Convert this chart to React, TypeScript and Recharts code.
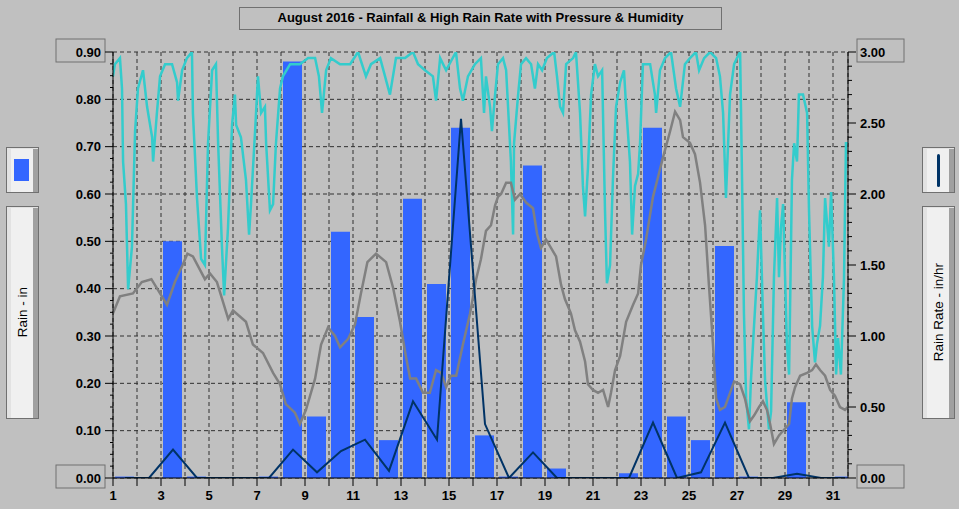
import React from 'react'
import { ComposedChart, Bar, Line, XAxis, YAxis, CartesianGrid } from 'recharts'

// daily rainfall (in), day 1..31
const rainDaily = [
  0.003, 0, 0.5, 0.003, 0, 0, 0.003, 0.88, 0.13, 0.52, 0.34, 0.08, 0.59, 0.41, 0.74, 0.09,
  0.003, 0.66, 0.02, 0, 0, 0.01, 0.74, 0.13, 0.08, 0.49, 0.003, 0, 0.16, 0, 0.003,
]
// daily high rain rate (in/hr)
const rateDaily = [
  0, 0, 0.2, 0, 0, 0, 0, 0.2, 0.04, 0.19, 0.27, 0.05, 0.54, 0.27, 2.53, 0.38,
  0, 0.18, 0, 0, 0, 0, 0.39, 0, 0.04, 0.39, 0, 0, 0.03, 0, 0,
]

// humidity (%), sampled through the month
const humTimes = [
  1.0, 1.08, 1.29, 1.375, 1.42, 1.54, 1.63, 1.79, 1.92, 2.04, 2.25, 2.42, 2.63, 2.67, 2.83, 2.96,
  3.17, 3.46, 3.67, 3.71, 3.88, 4.08, 4.29, 4.33, 4.5, 4.67, 4.83, 4.96, 5.13, 5.29, 5.38, 5.54,
  5.63, 5.79, 5.96, 6.08, 6.13, 6.33, 6.54, 6.67, 6.75, 6.92, 7.04, 7.17, 7.33, 7.38, 7.54, 7.67,
  7.79, 7.96, 8.08, 8.38, 8.79, 9.13, 9.42, 9.58, 9.71, 9.88, 10.08, 10.46, 10.88, 11.21, 11.54, 11.75,
  12.13, 12.54, 12.79, 13.17, 13.5, 13.71, 14.0, 14.33, 14.46, 14.63, 14.88, 15.29, 15.46, 15.58, 15.79, 16.08,
  16.33, 16.46, 16.54, 16.71, 16.79, 16.92, 17.04, 17.25, 17.38, 17.5, 17.58, 17.67, 17.71, 17.88, 18.0, 18.21,
  18.42, 18.58, 18.71, 18.88, 19.08, 19.38, 19.5, 19.63, 19.75, 19.88, 20.17, 20.29, 20.46, 20.58, 20.67, 20.79,
  20.92, 21.08, 21.21, 21.38, 21.5, 21.58, 21.71, 21.83, 21.96, 22.13, 22.29, 22.38, 22.54, 22.63, 22.75, 22.88,
  22.96, 23.08, 23.38, 23.58, 23.63, 23.79, 24.0, 24.25, 24.46, 24.63, 24.83, 25.04, 25.29, 25.42, 25.63, 25.88,
  26.13, 26.29, 26.42, 26.54, 26.63, 26.71, 26.88, 27.0, 27.13, 27.21, 27.29, 27.38, 27.5, 27.58, 27.71, 27.83,
  27.96, 28.08, 28.17, 28.33, 28.42, 28.54, 28.67, 28.75, 28.83, 28.92, 29.08, 29.17, 29.29, 29.38, 29.5, 29.58,
  29.75, 29.92, 30.0, 30.13, 30.25, 30.33, 30.46, 30.58, 30.67, 30.83, 30.92, 31.04, 31.13, 31.21, 31.33, 31.46,
  31.54, 31.62,
]
const humValues = [
  96, 98, 99, 94, 82, 75, 61, 68, 87, 94, 97, 91, 86, 82, 90, 96,
  98, 98, 95, 92, 97, 99, 100, 90, 76, 66, 65, 85, 97, 98, 85, 68,
  60, 71, 88, 93, 88, 86, 79, 70, 75, 87, 96, 90, 91, 85, 74, 75,
  85, 94, 96, 98, 98, 99, 99, 96, 90, 97, 99, 98, 98, 100, 96, 98,
  99, 93, 99, 99, 100, 98, 97, 96, 92, 99, 97, 100, 94, 92, 96, 98,
  99, 90, 96, 91, 87, 93, 98, 99, 97, 88, 82, 70, 85, 93, 98, 99,
  98, 94, 98, 97, 99, 100, 96, 91, 90, 98, 99, 100, 90, 78, 73, 81,
  93, 98, 96, 97, 74, 62, 65, 79, 91, 95, 97, 91, 82, 70, 78, 80,
  85, 98, 98, 93, 90, 97, 99, 100, 94, 91, 98, 99, 100, 97, 99, 100,
  99, 96, 90, 76, 85, 93, 98, 99, 100, 79, 57, 43, 38, 46, 55, 63,
  74, 57, 46, 38, 41, 63, 76, 63, 71, 75, 52, 47, 79, 85, 82, 93,
  93, 90, 74, 55, 49, 52, 55, 63, 76, 68, 77, 63, 47, 53, 47, 63,
  85, 85,
]

// barometric pressure (hPa)
const presTimes = [
  1.0, 1.29, 1.83, 2.2, 2.6, 2.96, 3.25, 3.58, 3.9, 4.1, 4.33, 4.83, 5.04, 5.33, 5.8, 6.0,
  6.54, 6.83, 7.25, 7.67, 7.96, 8.2, 8.58, 8.79, 9.04, 9.42, 9.67, 9.96, 10.25, 10.46, 10.8, 11.08,
  11.33, 11.6, 11.96, 12.38, 12.67, 12.96, 13.2, 13.38, 13.63, 13.92, 14.2, 14.46, 14.67, 14.88, 15.08, 15.3,
  15.58, 15.88, 16.13, 16.33, 16.54, 16.75, 16.92, 17.04, 17.17, 17.38, 17.58, 17.75, 17.96, 18.21, 18.5, 18.67,
  18.83, 19.04, 19.25, 19.46, 19.67, 19.83, 20.08, 20.25, 20.46, 20.67, 20.79, 21.0, 21.21, 21.42, 21.63, 21.75,
  21.92, 22.13, 22.38, 22.67, 22.88, 23.0, 23.21, 23.5, 23.71, 23.92, 24.21, 24.42, 24.63, 24.75, 25.04, 25.25,
  25.46, 25.67, 25.83, 26.0, 26.13, 26.29, 26.5, 26.71, 26.88, 27.13, 27.33, 27.54, 27.71, 27.92, 28.08, 28.25,
  28.38, 28.54, 28.75, 28.96, 29.17, 29.29, 29.42, 29.63, 29.92, 30.13, 30.29, 30.46, 30.67, 30.88, 31.08, 31.29,
  31.5, 31.62,
]
const presValues = [
  1010.8, 1011.4, 1011.5, 1011.9, 1012.0, 1011.5, 1011.1, 1011.9, 1012.5, 1012.9, 1012.8, 1012.0, 1012.2, 1011.9, 1010.6, 1010.9,
  1010.5, 1009.7, 1009.4, 1008.7, 1008.3, 1007.6, 1007.3, 1006.9, 1007.4, 1008.5, 1009.7, 1010.3, 1010.0, 1009.6, 1009.9, 1010.4,
  1011.5, 1012.6, 1012.9, 1012.6, 1011.7, 1010.5, 1009.3, 1008.5, 1008.5, 1008.0, 1008.0, 1008.8, 1008.7, 1008.2, 1008.6, 1008.6,
  1009.7, 1010.8, 1012.0, 1012.7, 1013.7, 1013.9, 1014.6, 1014.9, 1015.0, 1015.4, 1015.4, 1014.8, 1015.0, 1014.7, 1014.5, 1013.6,
  1013.1, 1013.4, 1013.1, 1012.8, 1011.8, 1011.3, 1010.8, 1010.2, 1009.8, 1009.1, 1008.3, 1008.1, 1008.0, 1008.1, 1007.5, 1008.0,
  1008.8, 1009.3, 1010.5, 1011.1, 1011.5, 1012.5, 1013.4, 1014.9, 1015.6, 1016.3, 1017.2, 1017.9, 1017.6, 1017.0, 1016.8, 1016.4,
  1015.4, 1013.9, 1011.8, 1009.7, 1007.8, 1007.4, 1007.5, 1008.0, 1008.4, 1008.3, 1007.8, 1007.0, 1007.2, 1007.5, 1007.7, 1007.4,
  1006.9, 1006.2, 1006.5, 1006.7, 1006.9, 1007.8, 1008.2, 1008.6, 1008.7, 1008.8, 1009.0, 1008.8, 1008.6, 1008.1, 1007.9, 1007.5,
  1007.4, 1007.5,
]

const dayTicks = [1, 2, 3, 4, 5, 6, 7, 8, 9, 10, 11, 12, 13, 14, 15, 16, 17, 18, 19, 20, 21, 22, 23, 24, 25, 26, 27, 28, 29, 30, 31]
const rainTickLabels = [0, 0.1, 0.2, 0.3, 0.4, 0.5, 0.6, 0.7, 0.8, 0.9]
const rateTickLabels = [0, 0.5, 1, 1.5, 2, 2.5, 3]

// minor ticks between the labelled ones
const rainTicks = rainTickLabels.flatMap((v, i) =>
  i === 0 ? [v] : [v - 0.075, v - 0.05, v - 0.025, v])
const rateTicks = rateTickLabels.flatMap((v, i) =>
  i === 0 ? [v] : [v - 0.4, v - 0.3, v - 0.2, v - 0.1, v])

const data = rainDaily.map((rain, i) => ({ day: i + 1.5, rain, rate: rateDaily[i] }))
const humData = humTimes.map((day, i) => ({ day, hum: humValues[i] }))
const presData = presTimes.map((day, i) => ({ day, pres: presValues[i] }))

const FONT = '"Liberation Sans", Arial, sans-serif'

const isLabel = (list: number[], v: number) => list.some((t) => Math.abs(t - v) < 1e-6)

function RainTick({ x, y, payload }: any) {
  const v = payload.value
  if (!isLabel(rainTickLabels, v)) {
    return <line x1={x - 3} x2={x} y1={y} y2={y} stroke="#000" />
  }
  const boxed = v === 0 || Math.abs(v - 0.9) < 1e-6
  return (
    <g>
      {boxed && <rect x={x - 57} y={y - 13} width={49} height={23} fill="none" stroke="#707070" />}
      <line x1={x - 8} x2={x} y1={y} y2={y} stroke="#000" />
      <text x={x - 12} y={y} dy="0.36em" textAnchor="end" fontFamily={FONT} fontWeight="bold" fontSize={13} fill="#000">
        {v.toFixed(2)}
      </text>
    </g>
  )
}

function RateTick({ x, y, payload }: any) {
  const v = payload.value
  if (!isLabel(rateTickLabels, v)) {
    return <line x1={x} x2={x + 4} y1={y} y2={y} stroke="#000" />
  }
  const boxed = v === 0 || v === 3
  return (
    <g>
      {boxed && <rect x={x + 9} y={y - 13} width={47} height={23} fill="none" stroke="#707070" />}
      <line x1={x} x2={x + 8} y1={y} y2={y} stroke="#000" />
      <text x={x + 12} y={y} dy="0.36em" textAnchor="start" fontFamily={FONT} fontWeight="bold" fontSize={13} fill="#000">
        {v.toFixed(2)}
      </text>
    </g>
  )
}

const panel: React.CSSProperties = {
  position: 'absolute',
  boxSizing: 'border-box',
  border: '1px solid #707070',
  background: '#f0f0f0',
  boxShadow: 'inset 4px 1px 0 #e2e2e2, inset -5px 0 0 #a0a0a0',
}

function SideLabel({ left, text }: { left: number; text: string }) {
  return (
    <div style={{ ...panel, left, top: 206, width: 33, height: 213, display: 'flex', alignItems: 'center', justifyContent: 'center' }}>
      <div style={{ writingMode: 'vertical-rl', transform: 'rotate(180deg)', fontFamily: FONT, fontSize: 13.5, color: '#000', whiteSpace: 'nowrap' }}>
        {text}
      </div>
    </div>
  )
}

export default function App() {
  return (
    <div style={{ position: 'fixed', left: 0, top: 0, width: 959, height: 509, background: '#c0c0c0', overflow: 'hidden' }}>
      <div
        style={{
          position: 'absolute', left: 239, top: 7, width: 483, height: 23, boxSizing: 'border-box',
          border: '1px solid #707070', textAlign: 'center', lineHeight: '19px',
          fontFamily: FONT, fontWeight: 'bold', fontSize: 13, color: '#000',
        }}
      >
        August 2016 - Rainfall &amp; High Rain Rate with Pressure &amp; Humidity
      </div>

      <div style={{ ...panel, left: 6, top: 147, width: 33, height: 46 }}>
        <div style={{ position: 'absolute', left: 7, top: 11, width: 15, height: 22, background: '#3366ff' }} />
      </div>
      <SideLabel left={6} text="Rain - in" />

      <div style={{ ...panel, left: 922, top: 147, width: 33, height: 46 }}>
        <div style={{ position: 'absolute', left: 14, top: 6, width: 3, height: 33, borderRadius: 2, background: '#003366' }} />
      </div>
      <SideLabel left={922} text="Rain Rate - in/hr" />

      <div style={{ position: 'absolute', left: 0, top: 0 }}>
        <ComposedChart width={959} height={509} data={data} margin={{ top: 52, right: 0, bottom: 0, left: 0 }}>
          <CartesianGrid
            yAxisId="rain"
            stroke="#303030"
            strokeDasharray="4 3"
            horizontalValues={rainTickLabels}
          />
          <XAxis
            dataKey="day"
            type="number"
            domain={[1, 31.625]}
            allowDataOverflow
            ticks={dayTicks}
            interval={0}
            height={31}
            tickSize={8}
            tickMargin={5}
            stroke="#000"
            axisLine={{ stroke: '#000' }}
            tickLine={{ stroke: '#000' }}
            tick={{ fill: '#000', fontFamily: FONT, fontWeight: 'bold', fontSize: 13 }}
            tickFormatter={(d: number) => (d % 2 === 1 ? String(d) : '')}
          />
          <XAxis xAxisId="fine" dataKey="day" type="number" domain={[1, 31.625]} allowDataOverflow hide height={0} />
          <YAxis
            yAxisId="rain"
            orientation="left"
            width={113}
            domain={[0, 0.9]}
            allowDataOverflow
            ticks={rainTicks}
            interval={0}
            tickSize={0}
            tickMargin={0}
            tickLine={false}
            axisLine={{ stroke: '#000' }}
            tick={RainTick}
          />
          <YAxis
            yAxisId="rate"
            orientation="right"
            width={111}
            domain={[0, 3]}
            allowDataOverflow
            ticks={rateTicks}
            interval={0}
            tickSize={0}
            tickMargin={0}
            tickLine={false}
            axisLine={{ stroke: '#000' }}
            tick={RateTick}
          />
          <YAxis yAxisId="hum" orientation="right" domain={[30, 100]} allowDataOverflow hide width={0} />
          <YAxis yAxisId="pres" orientation="right" domain={[1005, 1020]} allowDataOverflow hide width={0} />

          <Bar dataKey="rain" yAxisId="rain" fill="#3366ff" barSize={19} isAnimationActive={false} />
          <Line
            data={humData}
            xAxisId="fine"
            yAxisId="hum"
            dataKey="hum"
            type="linear"
            stroke="#33cccc"
            strokeWidth={2.5}
            dot={false}
            isAnimationActive={false}
          />
          <Line
            data={presData}
            xAxisId="fine"
            yAxisId="pres"
            dataKey="pres"
            type="linear"
            stroke="#808080"
            strokeWidth={2.5}
            dot={false}
            isAnimationActive={false}
          />
          <Line
            dataKey="rate"
            yAxisId="rate"
            type="linear"
            stroke="#003366"
            strokeWidth={2}
            dot={false}
            isAnimationActive={false}
          />
        </ComposedChart>
      </div>
    </div>
  )
}
